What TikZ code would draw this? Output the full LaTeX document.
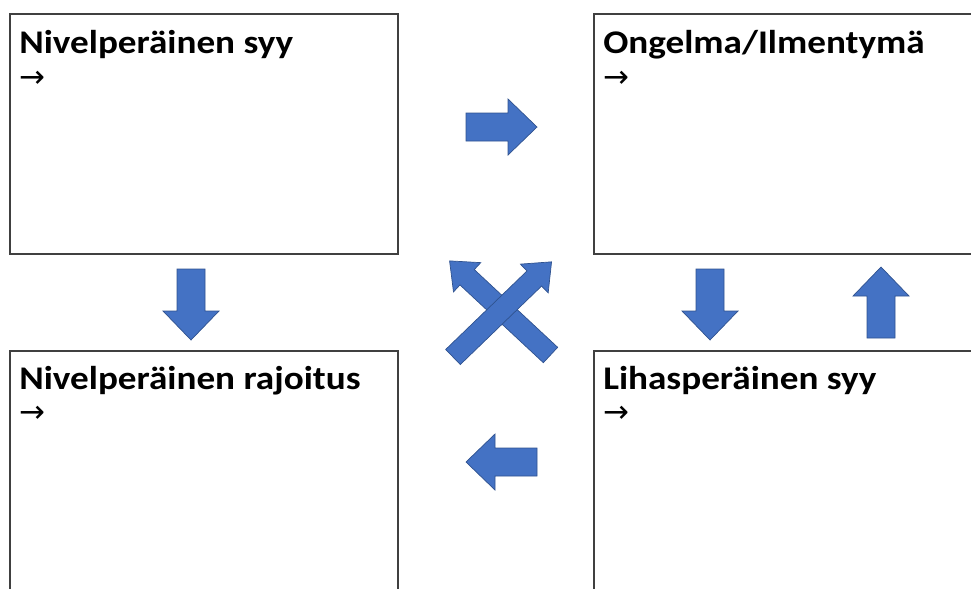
\documentclass[tikz,border=0pt]{standalone}
\usepackage{fontspec}
\setmainfont{Carlito}[FakeStretch=1.125]
\newfontfamily\symfont{DejaVu Sans}
\definecolor{arrowblue}{HTML}{4472C4}
\definecolor{arrowedge}{HTML}{2F528F}
\definecolor{boxline}{HTML}{404040}

\begin{document}
\begin{tikzpicture}[x=0.025cm, y=-0.025cm,
  box/.style={draw=boxline, line width=1pt, rectangle, inner sep=0pt, outer sep=0pt, anchor=north west},
  title/.style={font=\bfseries\fontsize{23.5}{28}\selectfont, inner sep=0pt, anchor=base west},
  pointer/.style={font=\symfont\fontsize{22}{26}\selectfont, inner sep=0pt, anchor=center},
  arrowshape/.style={fill=arrowblue, draw=arrowedge, line width=0.5pt, line join=miter},
  % block arrow: length, shaft half-width, head half-width, head length
  pics/blockarrow/.style args={#1,#2,#3,#4}{code={
    \filldraw[arrowshape] (0,-#2) -- ({#1-#4},-#2) -- ({#1-#4},-#3) -- (#1,0)
      -- ({#1-#4},#3) -- ({#1-#4},#2) -- (0,#2) -- cycle;
  }}
]
\useasboundingbox (0,0) rectangle (971,588);
\clip (0,0) rectangle (971,588);

% the four boxes
\node[box, minimum width=9.7cm,  minimum height=6.0cm] (cause)   at (10,14)   {};
\node[box, minimum width=10.4cm, minimum height=6.0cm] (problem) at (594,14)  {};
\node[box, minimum width=9.7cm,  minimum height=6.8cm] (limit)   at (10,351)  {};
\node[box, minimum width=10.4cm, minimum height=6.8cm] (muscle)  at (594,351) {};

% headings and pointers
\node[title]   (causeT)   at (19,53)   {Nivelperäinen syy};
\node[pointer] (causeP)   at (32,79)   {→};
\node[title]   (problemT) at (603,53)  {Ongelma/Ilmentymä};
\node[pointer] (problemP) at (616,79)  {→};
\node[title]   (limitT)   at (19,389)  {Nivelperäinen rajoitus};
\node[pointer] (limitP)   at (32,414)  {→};
\node[title]   (muscleT)  at (603,389) {Lihasperäinen syy};
\node[pointer] (muscleP)  at (616,414) {→};

% block arrows between the boxes
\pic at (466,127) {blockarrow={71,14,28,29}};
\pic[rotate=180] at (537,462) {blockarrow={71,14,28,29}};
\pic[rotate=-90] at (191,269) {blockarrow={71,14,28,29}};
\pic[rotate=-90] at (710,269) {blockarrow={71,14,28,29}};
\pic[rotate=90]  at (881,338) {blockarrow={71,14,28,29}};

% crossed arrows in the middle
\pic[rotate=137] at (550.5,355) {blockarrow={138,10.5,20,24}};
\pic[rotate=44]  at (453,357)   {blockarrow={137,10.5,20,24}};
\end{tikzpicture}
\end{document}
